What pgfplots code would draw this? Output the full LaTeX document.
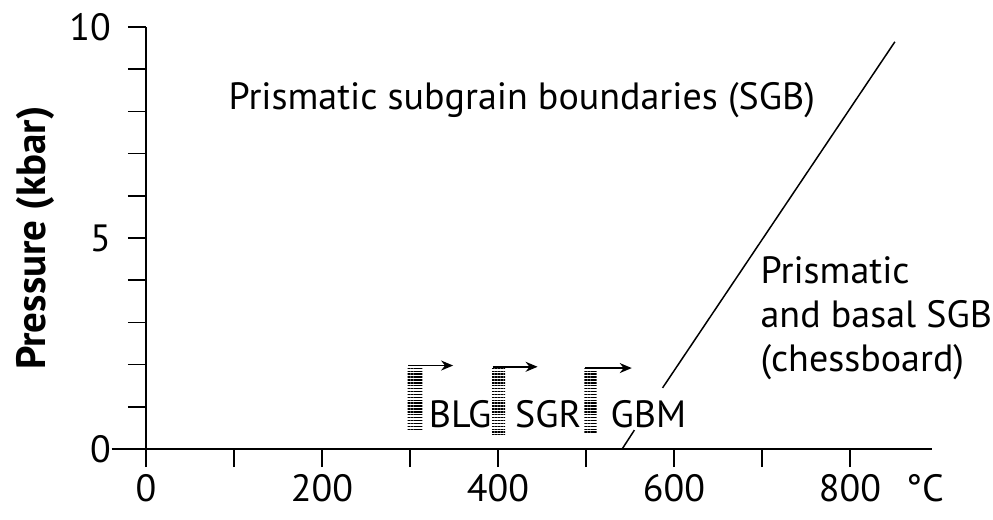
\documentclass[border=0pt]{standalone}
\usepackage{pgfplots}
\pgfplotsset{compat=1.18}
\usepackage{fontspec}
\setmainfont{PT Sans}
\usetikzlibrary{arrows.meta,patterns.meta}
\begin{document}
\begin{tikzpicture}
\begin{axis}[
  scale only axis,
  width=410pt, height=211pt,
  xmin=-39, xmax=893, ymin=0, ymax=10,
  axis lines=middle,
  axis line style={-, line width=1pt},
  hide obscured x ticks=false, hide obscured y ticks=false,
  xtick={0,200,400,600,800},
  minor xtick={100,300,500,700},
  ytick={0,5,10},
  minor ytick={1,2,3,4,6,7,8,9},
  tick align=outside,
  major tick length=9pt, minor tick length=9pt,
  tick style={line width=0.8pt, black},
  /pgf/number format/assume math mode=true,
  tick label style={font=\fontsize{19}{22}\selectfont},
  yticklabel style={xshift=-5pt},
  extra x ticks={885},
  extra x tick labels={°C},
  extra x tick style={tick style={draw=none}},
  clip=false,
]
\coordinate (bbA) at (axis cs:-165.9,10.64);
\coordinate (bbB) at (axis cs:962.5,-1.66);
% phase boundary
\addplot[black, line width=0.75pt] coordinates {(541,0) (555,0.45)};
\addplot[black, line width=0.75pt] coordinates {(587,1.45) (851,9.65)};
% hatched bars
\addplot[draw=none, pattern={Lines[angle=0,distance=1.45pt,line width=0.7pt]}] coordinates {(297,0.45)(314,0.45)(314,1.96)(297,1.96)(297,0.45)};
\addplot[draw=none, pattern={Lines[angle=0,distance=1.45pt,line width=0.7pt]}] coordinates {(393,0.35)(408,0.35)(408,1.94)(393,1.94)(393,0.35)};
\addplot[draw=none, pattern={Lines[angle=0,distance=1.45pt,line width=0.7pt]}] coordinates {(498,0.4)(512,0.4)(512,1.90)(498,1.90)(498,0.4)};
% arrows
\addplot[black, line width=0.8pt, -{Stealth[length=6pt,width=5pt]}] coordinates {(298,1.98) (349,1.98)};
\addplot[black, line width=0.8pt, -{Stealth[length=6pt,width=5pt]}] coordinates {(394,1.95) (445,1.95)};
\addplot[black, line width=0.8pt, -{Stealth[length=6pt,width=5pt]}] coordinates {(499,1.92) (552,1.92)};
% labels
\node[anchor=base, font=\fontsize{19}{22}\selectfont] at (axis cs:357,0.52) {BLG};
\node[anchor=base, font=\fontsize{19}{22}\selectfont] at (axis cs:457,0.52) {SGR};
\node[anchor=base, font=\fontsize{19}{22}\selectfont] at (axis cs:571,0.52) {GBM};
\node[font=\fontsize{19}{22}\selectfont] at (axis cs:427,8.27) {Prismatic subgrain boundaries (SGB)};
\node[anchor=west, align=left, inner sep=0pt, font=\fontsize{19}{22}\selectfont] at (axis cs:698,3.1) {Prismatic\\and basal SGB\\(chessboard)};
\node[rotate=90, font=\fontsize{20.5}{22}\selectfont\bfseries] at (axis cs:-126,5) {Pressure (kbar)};
\end{axis}
\pgfresetboundingbox
\path (bbA) rectangle (bbB);
\end{tikzpicture}
\end{document}
